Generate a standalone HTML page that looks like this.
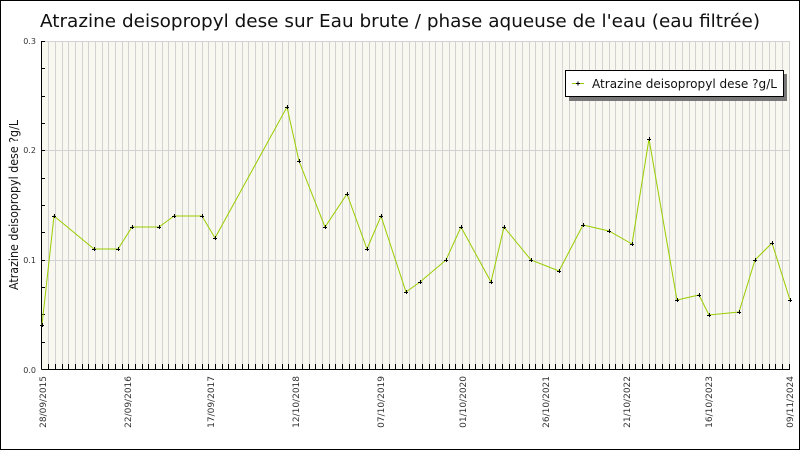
<!DOCTYPE html>
<html><head><meta charset="utf-8"><style>
html,body{margin:0;padding:0;background:#fff}
svg{display:block}
text{font-family:"DejaVu Sans","Liberation Sans",sans-serif}
</style></head><body>
<svg width="800" height="450" xmlns="http://www.w3.org/2000/svg">
<rect x="0.5" y="0.5" width="799" height="449" fill="#fff" stroke="#000"/>
<text x="400" y="27" font-size="18" text-anchor="middle" fill="#111" textLength="720" lengthAdjust="spacingAndGlyphs">Atrazine deisopropyl dese sur Eau brute / phase aqueuse de l'eau (eau filtrée)</text>
<rect x="42" y="41" width="748" height="328" fill="#f8f8f0"/>
<g id="g" stroke="#d2d2d2" stroke-width="1"></g>
<line x1="42" y1="260.5" x2="790" y2="260.5" stroke="#d2d2d2"/>
<line x1="42" y1="150.5" x2="790" y2="150.5" stroke="#d2d2d2"/>
<line x1="42" y1="41.5" x2="790" y2="41.5" stroke="#d2d2d2"/>
<g id="t" stroke="#000" stroke-width="1"></g>
<line x1="41.5" y1="41" x2="41.5" y2="369.5" stroke="#000"/>
<line x1="41.5" y1="369.5" x2="790" y2="369.5" stroke="#000"/>
<g font-size="8" fill="#333" text-anchor="end">
<text x="36" y="44">0.3</text><text x="36" y="153">0.2</text><text x="36" y="263">0.1</text><text x="36" y="373">0.0</text>
</g>
<text transform="translate(18,205) rotate(-90)" font-size="12" text-anchor="middle" fill="#111" textLength="170" lengthAdjust="spacingAndGlyphs">Atrazine deisopropyl dese ?g/L</text>
<g font-size="9" fill="#333" text-anchor="end">
<text transform="translate(46,376) rotate(-90)">28/09/2015</text>
<text transform="translate(131,376) rotate(-90)">22/09/2016</text>
<text transform="translate(214,376) rotate(-90)">17/09/2017</text>
<text transform="translate(299,376) rotate(-90)">12/10/2018</text>
<text transform="translate(384,376) rotate(-90)">07/10/2019</text>
<text transform="translate(466,376) rotate(-90)">01/10/2020</text>
<text transform="translate(549,376) rotate(-90)">26/10/2021</text>
<text transform="translate(630,376) rotate(-90)">21/10/2022</text>
<text transform="translate(712,376) rotate(-90)">16/10/2023</text>
<text transform="translate(793,376) rotate(-90)">09/11/2024</text>
</g>
<polyline fill="none" stroke="#99cc00" stroke-width="1" points="42,325 54,216 94,249 118,249 132,227 159,227 174,216 202,216 215,238 287,107 299,161 325,227 347,194 367,249 381,216 406,292 420,282 446,260 461,227 491,282 504,227 531,260 559,271 583,225 609,231 632,244 649,139 677,300 699,295 709,315 739,312 755,260 772,243 790,300"/>
<g id="m" stroke="#000" stroke-width="1"></g>
<rect x="569" y="74" width="218" height="27" fill="#777"/>
<rect x="565.5" y="70.5" width="218" height="26" fill="#fff" stroke="#000"/>
<line x1="572" y1="83.5" x2="584" y2="83.5" stroke="#99cc00"/>
<path d="M576 83.5h4M578 81.5v4" stroke="#000"/>
<text x="592" y="88" font-size="12" fill="#111" textLength="185" lengthAdjust="spacingAndGlyphs">Atrazine deisopropyl dese ?g/L</text>
</svg>
<script>
var ns="http://www.w3.org/2000/svg",g=document.getElementById('g'),t=document.getElementById('t'),m=document.getElementById('m');
for(var k=1;k<=112;k++){var x=Math.round(41.7+6.67*k)+0.5;if(x>790)break;
var l=document.createElementNS(ns,'line');l.setAttribute('x1',x);l.setAttribute('x2',x);l.setAttribute('y1',42);l.setAttribute('y2',369);g.appendChild(l);
var b=document.createElementNS(ns,'line');b.setAttribute('x1',x);b.setAttribute('x2',x);b.setAttribute('y1',364);b.setAttribute('y2',369);t.appendChild(b);}
for(var j=0;j<=12;j++){var y=Math.round(41+j*27.33)+0.5;var a=document.createElementNS(ns,'line');a.setAttribute('x1',42);a.setAttribute('x2',45);a.setAttribute('y1',y);a.setAttribute('y2',y);t.appendChild(a);}
var p="42,325 54,216 94,249 118,249 132,227 159,227 174,216 202,216 215,238 287,107 299,161 325,227 347,194 367,249 381,216 406,292 420,282 446,260 461,227 491,282 504,227 531,260 559,271 583,225 609,231 632,244 649,139 677,300 699,295 709,315 739,312 755,260 772,243 790,300".split(' ');
p.forEach(function(s){var c=s.split(',').map(Number);var e=document.createElementNS(ns,'path');e.setAttribute('d','M'+(c[0]-2)+' '+(c[1]+.5)+'h4M'+(c[0]+.5)+' '+(c[1]-2)+'v4');m.appendChild(e);});
</script>
</body></html>
